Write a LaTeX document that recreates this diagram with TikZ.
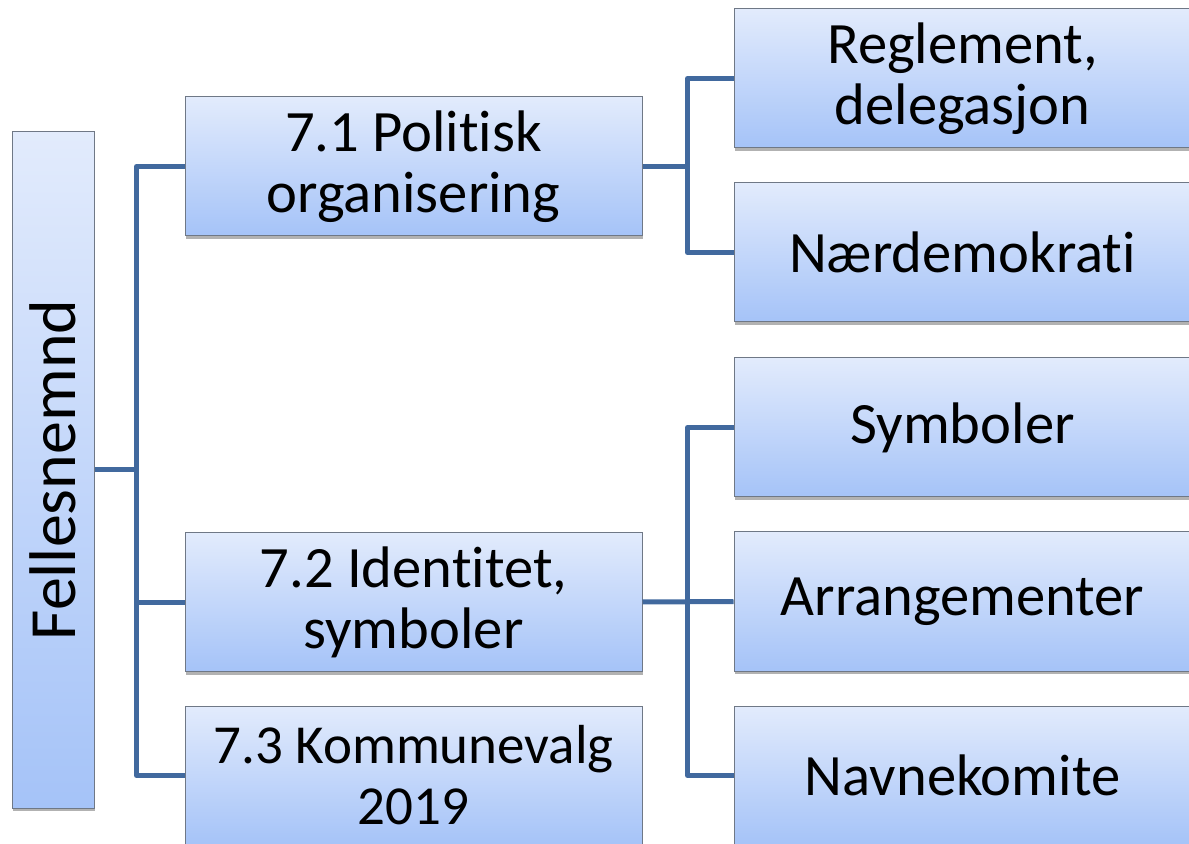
\documentclass[tikz,border=0pt]{standalone}
\usepackage{fontspec}
\setmainfont{Carlito}[Ligatures={NoCommon}]
\usepackage{xcolor}
\usetikzlibrary{shadows}

\definecolor{boxtop}{HTML}{E2EBFC}
\definecolor{boxbot}{HTML}{A5C3F8}
\definecolor{boxline}{HTML}{6F7886}
\definecolor{linkblue}{HTML}{41699E}

\tikzset{
  box/.style={draw=boxline, line width=0.5pt, rectangle,
    top color=boxtop, bottom color=boxbot,
    minimum width=228.5pt, minimum height=69.5pt,
    align=center, inner sep=2pt,
    font=\fontsize{29.3}{30.5}\selectfont,
    drop shadow={shadow xshift=0.6pt, shadow yshift=-1.6pt, opacity=0.3, fill=black}},
  link/.style={draw=linkblue, line width=2.5pt, line join=round}
}

\begin{document}
\begin{tikzpicture}[x=0.5pt,y=-0.5pt]
\useasboundingbox (0,0) rectangle (1189,844);
\clip (0,0) rectangle (1189,844);

\node[box, minimum width=41pt, minimum height=338pt,
  font=\fontsize{33}{36}\selectfont] (F) at (53,470)
{\rotatebox{90}{Fellesnemnd}};%

\node[box] (PO) at (413.5,166.5)
{7.1 Politisk\\organisering};%
\node[box] (ID) at (413.5,602)
{7.2 Identitet,\\symboler};%
\node[box, font=\fontsize{27.5}{30.5}\selectfont] (KV) at (413.5,775.5)
{7.3 Kommunevalg\\2019};

\node[box] (RD) at (962.5,78.5)
{Reglement,\\delegasjon};
\node[box] (ND) at (962.5,252.5)
{Nærdemokrati};
\node[box] (SY) at (962.5,427.5)
{Symboler};
\node[box] (AR) at (962.5,601.5)
{Arrangementer};
\node[box] (NK) at (962.5,775.5)
{Navnekomite};

\draw[link] (F.east) -- ++(43,0) ;
\draw[link] (PO.west) -- ++(-48,0) |- (KV.west) ;
\draw[link] (ID.west) -- ++(-48,0) ;
\draw[link] (PO.east) -- ++(46,0) ;
\draw[link] (RD.west) -- ++(-46,0) |- (ND.west) ;
\draw[link] (SY.west) -- ++(-46,0) |- (NK.west) ;
\draw[link] (ID.east) -- (AR.west) ;
\end{tikzpicture}
\end{document}
